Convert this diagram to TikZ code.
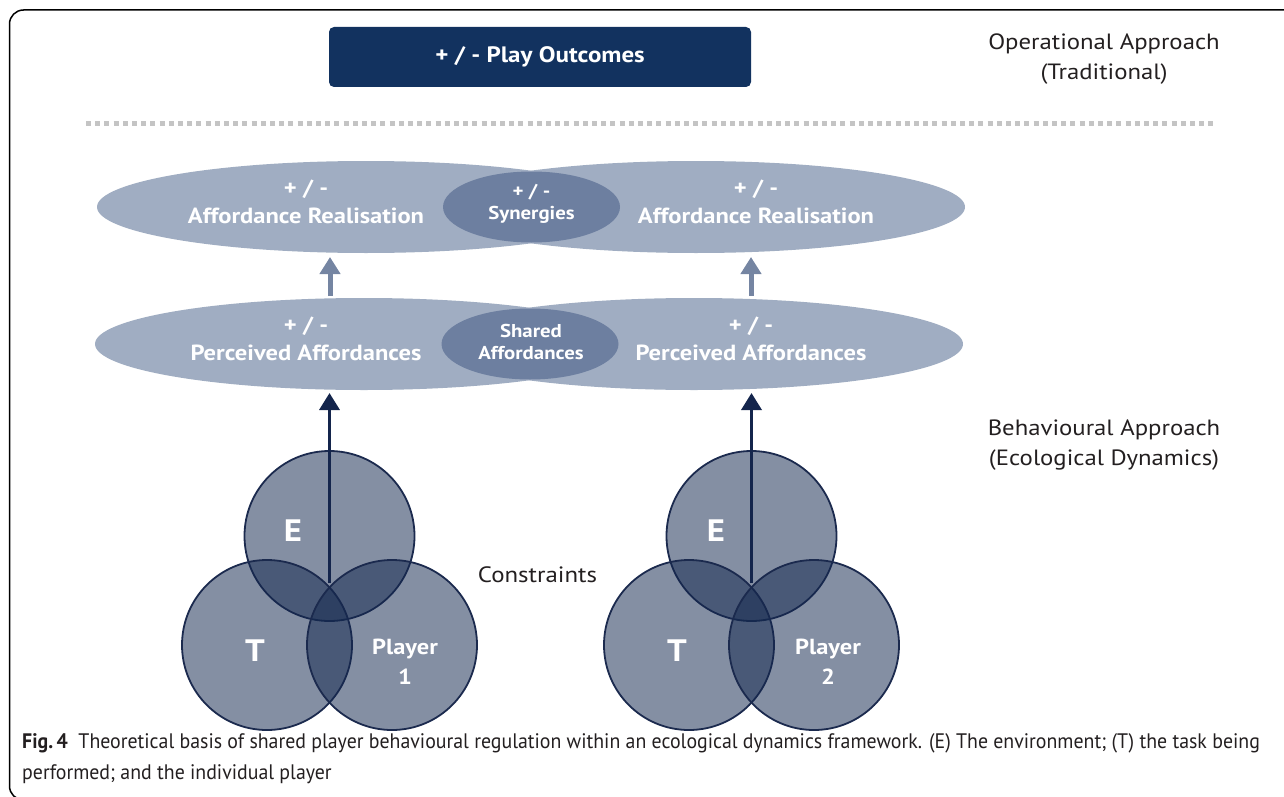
\documentclass[tikz,border=0pt]{standalone}
\usepackage{fontspec}
\setmainfont[FakeStretch=1.12]{PT Sans}
\newfontfamily\capfont[FakeStretch=0.945]{PT Sans}
\usetikzlibrary{shapes.geometric,arrows.meta}
\definecolor{boxnavy}{HTML}{12325F}
\definecolor{bigfill}{HTML}{A0ADC2}
\definecolor{darkfill}{HTML}{6D7FA0}
\definecolor{grayarr}{HTML}{7585A2}
\definecolor{darkarr}{HTML}{14254C}
\definecolor{circfill}{HTML}{14284F}
\definecolor{circline}{HTML}{1B2A4E}
\definecolor{dotgray}{HTML}{C4C4C4}
\definecolor{inkblack}{HTML}{231F20}
\tikzset{
  bigell/.style={ellipse, fill=bigfill, minimum width=538pt, minimum height=92pt, inner sep=0pt},
  smallell/.style={ellipse, fill=darkfill, minimum width=177pt, minimum height=71pt, inner sep=0pt},
  elltext/.style={text=white, align=center, font=\bfseries\fontsize{21.9}{28}\selectfont},
  smalltext/.style={text=white, align=center, font=\bfseries\fontsize{18.6}{21.5}\selectfont},
  venn/.style={circle, minimum size=170pt, inner sep=0pt, fill=circfill, fill opacity=0.52, draw=circline, draw opacity=1, line width=1.8pt},
  venntext/.style={text=white, align=center},
  bigletter/.style={venntext, font=\bfseries\fontsize{31}{32}\selectfont},
  playertext/.style={venntext, font=\bfseries\fontsize{21.8}{30}\selectfont},
  sidetext/.style={text=inkblack, align=center, font=\fontsize{22.1}{30}\selectfont},
  grayarrow/.style={draw=grayarr, line width=5pt, -{Triangle[width=20pt,length=17pt]}},
  darkarrow/.style={draw=darkarr, line width=3.5pt, -{Triangle[width=20pt,length=17pt]}},
}
\begin{document}
\begin{tikzpicture}[x=1pt,y=-1pt]
\useasboundingbox (0,0) rectangle (1284,797);
\clip (0,0) rectangle (1284,797);
% frame
\draw[line width=1.5pt, rounded corners=14pt] (9.5,10) rectangle (1320,800);
% top box
\node[fill=boxnavy, rounded corners=5pt, minimum width=422pt, minimum height=60pt, inner sep=0pt,
      text=white, font=\bfseries\fontsize{22.3}{25}\selectfont] (outc) at (540,57) {+ / - Play Outcomes};
\node[sidetext] (oper) at (1104,59) {Operational Approach\\(Traditional)};
% dotted separator
\coordinate (d1) at (86,124);
\coordinate (d2) at (1215,124);
\draw[dotgray, line width=5pt, dash pattern=on 5pt off 4.2pt] (d1) -- (d2);
% upper ellipses
\node[bigell] (ar1) at (366,207) {};
\node[bigell] (ar2) at (696,207) {};
\node[smallell] (syn) at (531.5,207) {};
% lower ellipses
\node[bigell] (pa1) at (364,344) {};
\node[bigell] (pa2) at (694,344) {};
\node[smallell] (sha) at (530,344) {};
% ellipse texts
\node[elltext] (ar1t) at (306,202) {+ / -\\Affordance Realisation};
\node[elltext] (ar2t) at (756,202) {+ / -\\Affordance Realisation};
\node[smalltext] (synt) at (531.5,204) {+ / -\\Synergies};
\node[elltext] (pa1t) at (306,339) {+ / -\\Perceived Affordances};
\node[elltext] (pa2t) at (751,339) {+ / -\\Perceived Affordances};
\node[smalltext] (shat) at (531,342) {Shared\\Affordances};
% gray arrows
\coordinate (g1s) at (330,296);
\coordinate (g1e) at (330,257);
\coordinate (g2s) at (751,296);
\coordinate (g2e) at (751,257);
\draw[grayarrow] (g1s) -- (g1e);
\draw[grayarrow] (g2s) -- (g2e);
% side label
\node[sidetext] (beh) at (1104,445) {Behavioural Approach\\(Ecological Dynamics)};
% venn 1
\node[venn] (e1) at (329.5,536) {};
\node[venn] (t1) at (267,645) {};
\node[venn] (p1) at (392,645) {};
% venn 2
\node[venn] (e2) at (751.5,536) {};
\node[venn] (t2) at (689,645) {};
\node[venn] (p2) at (814,645) {};
% venn texts
\node[bigletter] (e1t) at (293,531) {E};
\node[bigletter] (t1t) at (255,651) {T};
\node[playertext] (p1t) at (405,662) {Player\\1};
\node[bigletter] (e2t) at (716,531) {E};
\node[bigletter] (t2t) at (677,651) {T};
\node[playertext] (p2t) at (828,662) {Player\\2};
% dark arrows
\coordinate (s1) at (329.5,583);
\coordinate (u1) at (329.5,393);
\coordinate (s2) at (751.5,583);
\coordinate (u2) at (751.5,393);
\draw[darkarrow] (s1) -- (u1);
\draw[darkarrow] (s2) -- (u2);
% constraints
\node[font=\fontsize{22.2}{25}\selectfont, text=inkblack] (cons) at (537.5,575) {Constraints};
% caption
\node[anchor=west, font=\capfont\fontsize{21}{31}\selectfont, text=inkblack, align=left, inner sep=0pt] (cap) at (22,759)
{\textbf{Fig.\,4}\ \ Theoretical basis of shared player behavioural regulation within an ecological dynamics framework. (E) The environment; (T) the task being\\performed; and the individual player};
\end{tikzpicture}
\end{document}
